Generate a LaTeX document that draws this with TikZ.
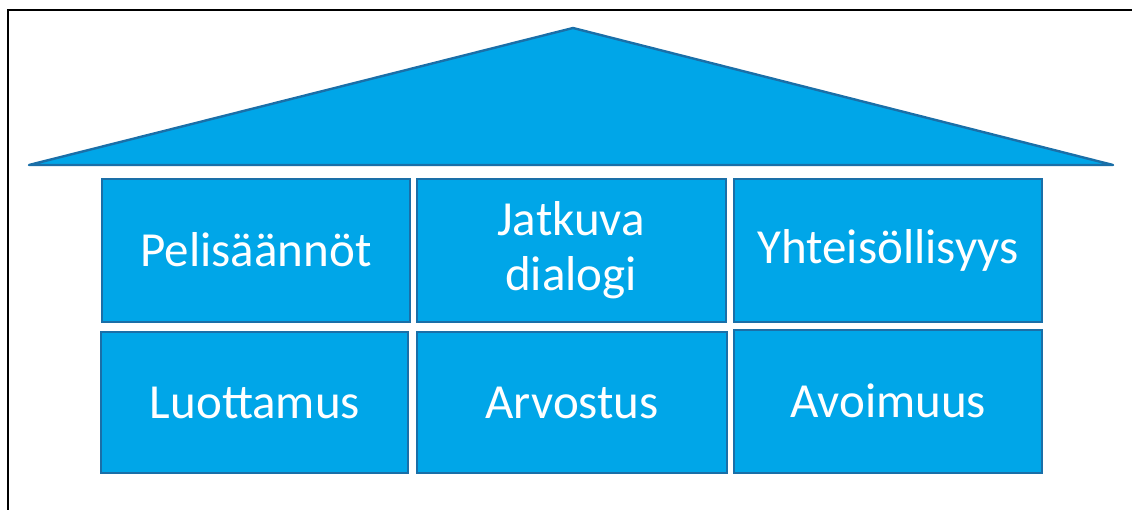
\documentclass[tikz,border=0pt]{standalone}
\usepackage{fontspec}
\setmainfont{Carlito}
\definecolor{tilefill}{HTML}{00A6E8}
\definecolor{tileedge}{HTML}{1A6FA8}
\begin{document}
\begin{tikzpicture}[x=1pt,y=-1pt,
  tile/.style={draw=tileedge,line width=2.4pt,fill=tilefill,inner sep=0pt},
  label/.style={text=white,font=\fontsize{49}{55}\selectfont,align=center}]
\useasboundingbox (0,0) rectangle (1132,510);
% frame edges
\draw[line width=2pt,black] (7.5,510) -- (7.5,10.5) -- (1132,10.5);
% roof
\coordinate (rl) at (29,165);
\coordinate (ra) at (573,28);
\coordinate (rr) at (1113,165);
\draw[tile,line join=round] (rl) -- (ra) -- (rr) -- cycle;
% upper row
\draw[tile] (102,179) rectangle (410,322);
\node[label] (p1) at (256,250) {Pelisäännöt};
\draw[tile] (417,179) rectangle (726,322);
\node[label] (p2) at (571,250) {Jatkuva\\dialogi};
\draw[tile] (734,179) rectangle (1042,322);
\node[label] (p3) at (888,250) {Yhteisöllisyys};
% lower row
\draw[tile] (101,332) rectangle (408,473);
\node[label] (p4) at (255,403) {Luottamus};
\draw[tile] (417,332) rectangle (727,473);
\node[label] (p5) at (572,403) {Arvostus};
\draw[tile] (734,330) rectangle (1042,473);
\node[label] (p6) at (888,401) {Avoimuus};
\end{tikzpicture}
\end{document}
